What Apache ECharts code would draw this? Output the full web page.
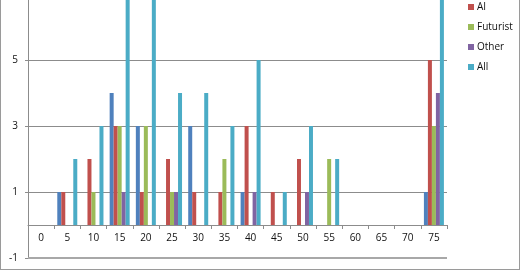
<!DOCTYPE html>
<html>
<head>
<meta charset="utf-8">
<script src="https://cdn.jsdelivr.net/npm/echarts@6/dist/echarts.min.js"></script>
<style>
html,body{margin:0;padding:0;background:#fff;}
#frame{position:absolute;left:0;top:-1px;width:518px;height:270px;border:1px solid #9a9a9a;border-top:none;}
#chart{position:absolute;left:0;top:0;width:520px;height:272px;}
</style>
</head>
<body>
<div id="frame"></div>
<div id="chart"></div>
<script>
const categories = ['0','5','10','15','20','25','30','35','40','45','50','55','60','65','70','75'];
const rationalist = [0,1,0,4,3,0,3,0,1,0,0,0,0,0,0,1];
const ai          = [0,1,2,3,1,2,1,1,3,1,2,0,0,0,0,5];
const futurist    = [0,0,1,3,3,1,0,2,0,0,0,2,0,0,0,3];
const other       = [0,0,0,1,0,1,0,0,1,0,1,0,0,0,0,4];
const all         = [0,2,3,11,7,4,4,3,5,1,3,2,0,0,0,13];
const yTicks = [-1,1,3,5];
const yMin = -1;

const font = "'Open Sans', sans-serif";
const chart = echarts.init(document.getElementById('chart'), null, {renderer:'canvas'});
const mk = (name, data, color) => ({
  name, type:'bar', data, barWidth:4, barGap:'0%', clip:true,
  itemStyle:{color}, animation:false
});
const series = [
  mk('Rationalist', rationalist, '#4F81BD'),
  mk('AI', ai, '#C0504D'),
  mk('Futurist', futurist, '#9BBB59'),
  mk('Other', other, '#8064A2'),
  mk('All', all, '#4BACC6')
];
series[0].markLine = {
  silent:true, symbol:'none', label:{show:false},
  lineStyle:{color:'#a8a8a8', width:2, type:'solid'},
  data:[{yAxis:yMin}]
};
chart.setOption({
  animation:false,
  grid:{left:28, right:73, top:-6, bottom:14, containLabel:false, outerBoundsMode:'none'},
  legend:{
    orient:'vertical', left:463, top:-25, itemWidth:6, itemHeight:6, itemGap:6,
    icon:'rect',
    textStyle:{fontFamily:font, fontSize:10, color:'#111', lineHeight:14, padding:[0,0,0,-2]},
    data:['Rationalist','AI','Futurist','Other','All']
  },
  xAxis:{
    type:'category', data:categories, boundaryGap:true, position:'bottom', offset:-33,
    axisLine:{onZero:false, lineStyle:{color:'#8c8c8c', width:1}},
    axisTick:{show:true, length:4, inside:false, alignWithLabel:false, lineStyle:{color:'#8c8c8c'}},
    axisLabel:{fontFamily:font, fontSize:10, color:'#111', margin:8, interval:0},
    splitLine:{show:false}
  },
  yAxis:{
    type:'value', min:yMin, max:7, interval:2,
    axisLine:{show:true, lineStyle:{color:'#8c8c8c'}},
    axisTick:{show:true, length:3, lineStyle:{color:'#8c8c8c'}},
    axisLabel:{fontFamily:font, fontSize:10, color:'#111', margin:10,
      formatter:v => yTicks.includes(v) ? String(v) : ''},
    splitLine:{show:true, lineStyle:{color:'#8c8c8c', width:1}}
  },
  series
});
</script>
</body>
</html>
